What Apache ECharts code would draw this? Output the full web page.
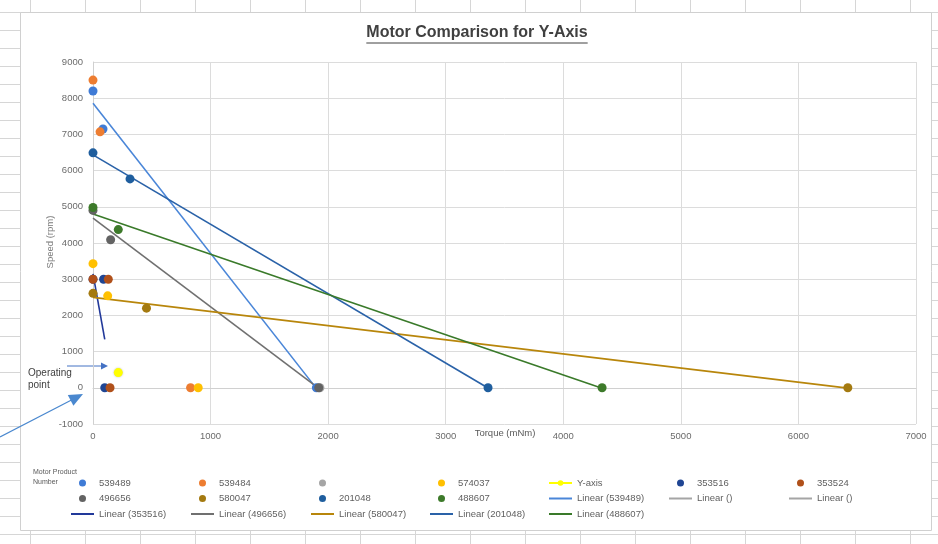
<!DOCTYPE html>
<html>
<head>
<meta charset="utf-8">
<script src="https://cdn.jsdelivr.net/npm/echarts@6/dist/echarts.min.js"></script>
<style>
  html, body { margin: 0; padding: 0; }
  body {
    width: 938px; height: 544px; overflow: hidden; background-color: #fff;
    background-image:
      linear-gradient(to right, #d6d6d6 1px, transparent 1px),
      linear-gradient(to bottom, #d6d6d6 1px, transparent 1px);
    background-size: 55px 100%, 100% 18px;
    background-position: 30px 0, 0 12px;
  }
  #chart { width: 938px; height: 544px; }
</style>
</head>
<body>
<div id="chart"></div>
<script>
// Measured points per motor: [torque (mNm), speed (rpm)]
const m539489 = [[0, 8200], [85, 7150], [1900, 0]];
const m539484 = [[0, 8500], [60, 7070], [830, 0]];
const mBlank  = [[1930, 0]];
const m574037 = [[0, 3430], [125, 2540], [895, 0]];
const yAxisReq = [[215, 420]];
const m353516 = [[0, 3000], [90, 3000], [100, 0]];
const m353524 = [[0, 3000], [130, 3000], [145, 0]];
const m496656 = [[0, 4900], [150, 4090], [1920, 0]];
const m580047 = [[0, 2610], [455, 2200], [6420, 0]];
const m201048 = [[0, 6490], [315, 5770], [3360, 0]];
const m488607 = [[0, 4980], [215, 4370], [4330, 0]];

const titleText = 'Motor Comparison for Y-Axis';
const xName = 'Torque (mNm)';
const yName = 'Speed (rpm)';

// Least-squares line across the x-range of a point set
function trend(pts) {
  const n = pts.length;
  let mx = 0, my = 0;
  pts.forEach(p => { mx += p[0]; my += p[1]; });
  mx /= n; my /= n;
  let sxx = 0, sxy = 0;
  pts.forEach(p => { sxx += (p[0] - mx) * (p[0] - mx); sxy += (p[0] - mx) * (p[1] - my); });
  const k = sxy / sxx, b = my - k * mx;
  const xs = pts.map(p => p[0]);
  const x0 = Math.min.apply(null, xs), x1 = Math.max.apply(null, xs);
  return [[x0, b + k * x0], [x1, b + k * x1]];
}

function scatter(name, color, data) {
  return { name, type: 'scatter', data, symbolSize: 9, z: 4,
    itemStyle: { color, opacity: 1 } };
}
function trendLine(name, color, pts) {
  return { name, type: 'line', data: pts ? trend(pts) : [], symbol: 'none', z: 3,
    lineStyle: { color, width: 1.6 }, itemStyle: { color } };
}

const series = [
  trendLine('Linear (539489)', '#4A86D8', m539489),
  trendLine('Linear (353516)', '#22399A', m353516),
  trendLine('Linear (496656)', '#707070', m496656),
  trendLine('Linear (580047)', '#B8860B', m580047),
  trendLine('Linear (201048)', '#2A62A8', m201048),
  trendLine('Linear (488607)', '#3A7A2A', m488607),
  trendLine('#lin1', '#A5A5A5', null),
  trendLine('#lin2', '#A5A5A5', null),
  scatter('539489', '#3F7BD6', m539489),
  scatter('539484', '#ED7D31', m539484),
  scatter('#blank', '#A5A5A5', mBlank),
  scatter('574037', '#FFC000', m574037),
  { name: 'Y-axis', type: 'line', data: yAxisReq, symbol: 'circle', symbolSize: 9, z: 5,
    lineStyle: { color: '#FFFF00', width: 1.6 }, itemStyle: { color: '#FFFF00',
      shadowColor: 'rgba(0,0,0,0.25)', shadowBlur: 2 } },
  scatter('353516', '#1F4593', m353516),
  scatter('353524', '#B0501A', m353524),
  scatter('496656', '#636363', m496656),
  scatter('580047', '#A47A10', m580047),
  scatter('201048', '#1F5E9E', m201048),
  scatter('488607', '#3D7A2A', m488607)
];

const legendCols = [
  ['539489', '496656', 'Linear (353516)'],
  ['539484', '580047', 'Linear (496656)'],
  ['#blank', '201048', 'Linear (580047)'],
  ['574037', '488607', 'Linear (201048)'],
  ['Y-axis', 'Linear (539489)', 'Linear (488607)'],
  ['353516', '#lin1'],
  ['353524', '#lin2']
];
const legendLeft = [70, 190, 310, 429, 548, 668, 788];

// trend-line entries show just the stroke, no marker
const lineOnly = n => n.indexOf('Linear') === 0 || n.indexOf('#lin') === 0;

const legends = legendCols.map((names, i) => ({
  data: names.map(n => lineOnly(n) ? { name: n, itemStyle: { opacity: 0 } } : { name: n }),
  orient: 'vertical', left: legendLeft[i], top: 477, padding: 0,
  itemWidth: 23, itemHeight: 7, itemGap: 3.5, selectedMode: false,
  formatter: n => n === '#blank' ? '\u00a0' : (n.charAt(0) === '#' ? 'Linear ()' : n),
  textStyle: { fontFamily: 'Liberation Sans', fontSize: 9.5, color: '#5f5f5f', lineHeight: 12 }
}));

// Title width for the underline
const ctx = document.createElement('canvas').getContext('2d');
const titleFont = 'bold 16px "Liberation Sans"';
ctx.font = titleFont;
const tw = ctx.measureText(titleText).width;
const tcx = 477, tcy = 33;

const axisLabel = { fontFamily: 'Liberation Sans', fontSize: 9.5, color: '#6b6b6b',
  formatter: v => String(v) };
const gridLine = { lineStyle: { color: '#DCDCDC', width: 1 } };
const nameFont = '9.5px "Liberation Sans"';

const chart = echarts.init(document.getElementById('chart'));
chart.setOption({
  animation: false,
  backgroundColor: 'transparent',
  grid: { left: 93, right: 22, top: 62, bottom: 120, containLabel: false },
  xAxis: {
    type: 'value', min: 0, max: 7000, interval: 1000,
    axisLine: { show: true, onZero: true, lineStyle: { color: '#D0D0D0' } },
    axisTick: { show: false },
    splitLine: gridLine,
    axisLabel: Object.assign({ margin: 7 }, axisLabel)
  },
  yAxis: {
    type: 'value', min: -1000, max: 9000, interval: 1000,
    axisLine: { show: true, lineStyle: { color: '#D0D0D0' } },
    axisTick: { show: false },
    splitLine: gridLine,
    axisLabel: Object.assign({ margin: 10 }, axisLabel)
  },
  legend: legends,
  graphic: [
    { type: 'rect', z: -100, silent: true,
      shape: { x: 20.5, y: 12.5, width: 911, height: 518 },
      style: { fill: '#fff', stroke: '#D0D0D0', lineWidth: 1 } },
    { type: 'text', x: tcx, y: tcy, silent: true,
      style: { text: titleText, font: titleFont, fill: '#404040',
        textAlign: 'center', textVerticalAlign: 'middle' } },
    { type: 'line', silent: true,
      shape: { x1: tcx - tw / 2, y1: tcy + 10, x2: tcx + tw / 2, y2: tcy + 10 },
      style: { stroke: '#404040', lineWidth: 1 } },
    { type: 'text', x: 505, y: 433, silent: true,
      style: { text: xName, font: nameFont, fill: '#595959',
        textAlign: 'center', textVerticalAlign: 'middle' } },
    { type: 'text', x: 50, y: 242, rotation: Math.PI / 2, silent: true,
      style: { text: yName, font: nameFont, fill: '#7a7a7a',
        textAlign: 'center', textVerticalAlign: 'middle' } },
    { type: 'text', x: 33, y: 477, silent: true,
      style: { text: 'Motor Product\nNumber', font: '7px "Liberation Sans"', fill: '#595959',
        lineHeight: 10, textVerticalAlign: 'middle' } },
    { type: 'text', x: 28, y: 379, silent: true,
      style: { text: 'Operating\npoint', font: '10px "Liberation Sans"', fill: '#404040',
        lineHeight: 12, textVerticalAlign: 'middle' } },
    // pointer to the operating point
    { type: 'line', silent: true, shape: { x1: 67, y1: 366, x2: 102, y2: 366 },
      style: { stroke: '#4472C4', lineWidth: 1 } },
    { type: 'polygon', silent: true, shape: { points: [[108, 366], [101, 362.5], [101, 369.5]] },
      style: { fill: '#4472C4' } },
    // callout arrow from the sheet margin
    { type: 'line', silent: true, shape: { x1: 0, y1: 437, x2: 72, y2: 399.7 },
      style: { stroke: '#4A88CF', lineWidth: 1.2 } },
    { type: 'polygon', silent: true, shape: { points: [[83, 394], [73.4, 405.7], [67.8, 395.1]] },
      style: { fill: '#4A88CF' } }
  ],
  series
});
</script>
</body>
</html>
